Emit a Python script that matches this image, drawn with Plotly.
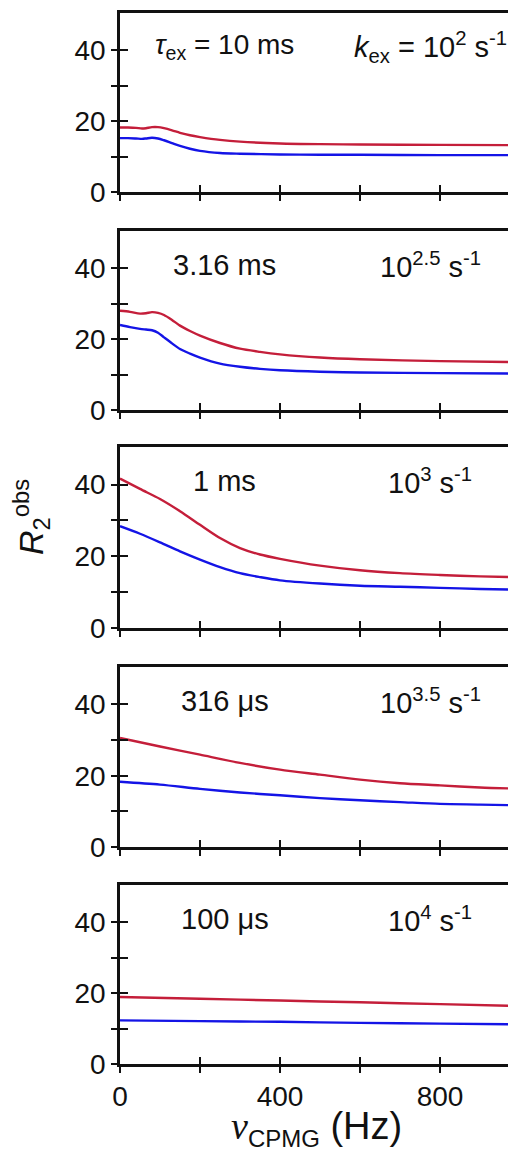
import plotly.graph_objects as go

# ---- data ----
nu_10ms = [0, 20, 40, 55, 65, 80, 95, 110, 130, 150, 175, 200, 250, 300, 400, 500, 600, 800, 990]
red_10ms = [18.2, 18.2, 18.1, 17.9, 18.0, 18.3, 18.3, 18.0, 17.4, 16.7, 16.0, 15.5, 14.7, 14.2, 13.7, 13.5, 13.4, 13.3, 13.2]
blue_10ms = [15.2, 15.2, 15.1, 15.0, 15.1, 15.3, 15.1, 14.6, 13.8, 13.0, 12.2, 11.6, 11.0, 10.8, 10.6, 10.5, 10.5, 10.4, 10.4]

nu_316ms = [0, 25, 50, 65, 80, 95, 110, 130, 150, 175, 200, 250, 300, 350, 400, 500, 600, 800, 990]
red_316ms = [28.0, 27.7, 27.2, 27.3, 27.6, 27.4, 26.8, 25.4, 23.8, 22.3, 21.0, 18.9, 17.3, 16.4, 15.7, 14.8, 14.3, 13.8, 13.5]
blue_316ms = [24.0, 23.4, 22.9, 22.7, 22.5, 21.8, 20.5, 18.8, 17.2, 15.9, 14.8, 13.1, 12.2, 11.6, 11.2, 10.8, 10.6, 10.4, 10.3]

nu_1ms = [0, 50, 100, 150, 200, 250, 300, 350, 400, 500, 600, 700, 800, 900, 990]
red_1ms = [41.7, 38.8, 36.0, 32.6, 28.8, 25.1, 22.3, 20.5, 19.3, 17.4, 16.1, 15.3, 14.8, 14.4, 14.2]
blue_1ms = [28.4, 26.3, 23.9, 21.4, 19.1, 17.0, 15.3, 14.2, 13.3, 12.4, 11.8, 11.5, 11.2, 10.9, 10.7]

nu_316us = [0, 100, 200, 300, 400, 500, 600, 700, 800, 900, 990]
red_316us = [30.6, 28.2, 25.9, 23.6, 21.7, 20.3, 18.9, 17.9, 17.3, 16.7, 16.4]
blue_316us = [18.3, 17.5, 16.3, 15.3, 14.5, 13.7, 13.1, 12.6, 12.1, 11.9, 11.7]

nu_100us = [0, 200, 400, 600, 800, 990]
red_100us = [18.9, 18.4, 17.9, 17.4, 16.9, 16.4]
blue_100us = [12.3, 12.1, 11.9, 11.6, 11.4, 11.2]

tau_labels = ["<i>τ</i><sub>ex</sub> = 10 ms", "3.16 ms", "1 ms", "316 μs", "100 μs"]
k_labels = ["<i>k</i><sub>ex</sub> = 10<sup>2</sup> s<sup>-1</sup>", "10<sup>2.5</sup> s<sup>-1</sup>",
            "10<sup>3</sup> s<sup>-1</sup>", "10<sup>3.5</sup> s<sup>-1</sup>", "10<sup>4</sup> s<sup>-1</sup>"]

x_major = [0, 400, 800]
x_minor = [200, 600]
y_major = [0, 20, 40]
y_minor = [10, 30]

panels = [
    (nu_10ms, red_10ms, blue_10ms),
    (nu_316ms, red_316ms, blue_316ms),
    (nu_1ms, red_1ms, blue_1ms),
    (nu_316us, red_316us, blue_316us),
    (nu_100us, red_100us, blue_100us),
]

RED = "#C41E3A"
BLUE = "#1414E6"
AXC = "#111111"
FONT = "Liberation Sans, Arial, sans-serif"

OFF = 8  # default page body margin
W, H = 508, 1150
ML, MR, MT, MB = 112, 0, 5, 94
plot_h = H - MT - MB
plot_w = W - ML - MR
tops_px = [13, 231, 447, 667, 885]
bots_px = [192, 410, 628, 847, 1064]


def fy(page_px):
    return (H - MB - (page_px - OFF)) / plot_h


def fx(page_px):
    return (page_px - OFF - ML) / plot_w


XR = [0, 990]
YR = [0, 50.5]

fig = go.Figure()
layout = dict(
    width=W, height=H,
    margin=dict(l=ML, r=MR, t=MT, b=MB),
    paper_bgcolor="white", plot_bgcolor="white",
    showlegend=False,
    font=dict(family=FONT, size=28, color=AXC),
)


def tick_minor(vals, side, length):
    return dict(tickmode="array", tickvals=vals, ticks=side, ticklen=length,
                tickwidth=2, tickcolor=AXC, showgrid=False)


annotations = []
for i, (xs, rs, bs) in enumerate(panels):
    n = i + 1
    sx = "" if n == 1 else str(n)
    m = n + 5
    fig.add_trace(go.Scatter(x=xs, y=rs, mode="lines", line=dict(color=RED, width=2.4, shape="spline", smoothing=0.8),
                             xaxis="x" + sx, yaxis="y" + sx))
    fig.add_trace(go.Scatter(x=xs, y=bs, mode="lines", line=dict(color=BLUE, width=2.4, shape="spline", smoothing=0.8),
                             xaxis="x" + sx, yaxis="y" + sx))
    fig.add_trace(go.Scatter(x=[None], y=[None], mode="lines", xaxis="x" + str(m), yaxis="y" + str(m),
                             hoverinfo="skip"))
    dom = [fy(bots_px[i]), fy(tops_px[i])]
    layout["xaxis" + sx] = dict(
        domain=[0, 1], anchor="y" + sx, range=XR, showgrid=False, zeroline=False,
        showline=True, linecolor=AXC, linewidth=2.5, mirror=True,
        ticks="outside", ticklen=6, tickwidth=2, tickcolor=AXC,
        tickmode="array", tickvals=x_major, minor=tick_minor(x_minor, "outside", 6),
        showticklabels=(n == 5), tickfont=dict(size=28, family=FONT, color=AXC),
    )
    layout["yaxis" + sx] = dict(
        domain=dom, anchor="x" + sx, range=YR, showgrid=False, zeroline=False,
        showline=True, linecolor=AXC, linewidth=2.5,
        ticks="outside", ticklen=6, tickwidth=2, tickcolor=AXC,
        tickmode="array", tickvals=y_major, minor=tick_minor(y_minor, "outside", 6),
        tickfont=dict(size=28, family=FONT, color=AXC),
    )
    layout["xaxis" + str(m)] = dict(
        overlaying="x" + sx, anchor="y" + sx, range=XR, showgrid=False, zeroline=False,
        showline=False, ticks="inside", ticklen=7, tickwidth=2, tickcolor=AXC,
        tickmode="array", tickvals=x_major, minor=tick_minor(x_minor, "inside", 7),
        showticklabels=False,
    )
    layout["yaxis" + str(m)] = dict(
        overlaying="y" + sx, anchor="x" + sx, range=YR, showgrid=False, zeroline=False,
        showline=False, ticks="inside", ticklen=8, tickwidth=2, tickcolor=AXC,
        tickmode="array", tickvals=y_major, minor=tick_minor(y_minor, "inside", 8),
        showticklabels=False,
    )
    annotations.append(dict(x=262, y=41, xref="x" + sx, yref="y" + sx, text=tau_labels[i],
                            showarrow=False, xanchor="center", yanchor="middle",
                            font=dict(size=28 if n == 1 else 29, family=FONT, color=AXC)))
    annotations.append(dict(x=775, y=41, xref="x" + sx, yref="y" + sx, text=k_labels[i],
                            showarrow=False, xanchor="center", yanchor="middle",
                            font=dict(size=29, family=FONT, color=AXC)))

# axis titles
annotations.append(dict(x=fx(31), y=fy(517), xref="paper", yref="paper",
                        text="<i>R</i><sub>2</sub><sup>obs</sup>", textangle=-90,
                        showarrow=False, xanchor="center", yanchor="middle",
                        font=dict(size=34, family=FONT, color=AXC)))
annotations.append(dict(x=fx(316), y=fy(1128), xref="paper", yref="paper",
                        text="<span style='font-family:Liberation Serif'><i>ν</i></span>"
                             "<sub><span style='font-size:24px'>CPMG</span></sub> (Hz)",
                        showarrow=False, xanchor="center", yanchor="middle",
                        font=dict(size=38, family=FONT, color=AXC)))
layout["annotations"] = annotations
fig.update_layout(**layout)
fig.write_html("out.html")
